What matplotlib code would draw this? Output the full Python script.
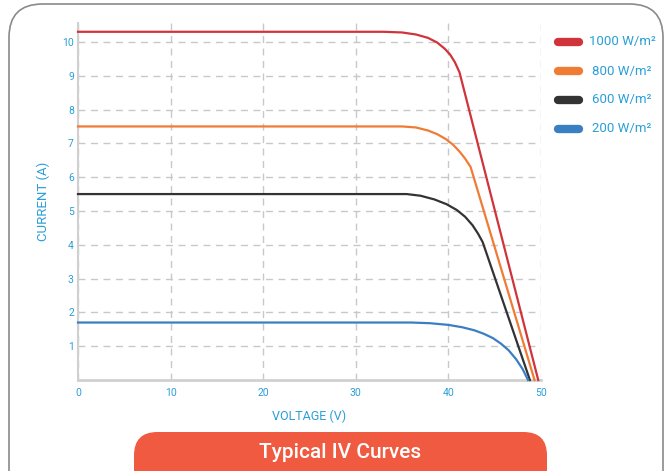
import matplotlib.pyplot as plt
from matplotlib.patches import FancyBboxPatch
from matplotlib.lines import Line2D

# ==== DATA ====
red_v = [0, 33, 35, 36.5, 37.8, 38.8, 39.6, 40.2, 40.7, 41.2, 49.7]
red_i = [10.3, 10.3, 10.28, 10.22, 10.12, 9.98, 9.8, 9.62, 9.4, 9.1, 0]

orange_v = [0, 35, 36.5, 37.8, 38.8, 39.7, 40.5, 41.2, 41.8, 42.4, 49.3]
orange_i = [7.5, 7.5, 7.47, 7.38, 7.27, 7.13, 6.96, 6.76, 6.55, 6.3, 0]

black_v = [0, 35.5, 37, 38.5, 39.8, 40.9, 41.8, 42.6, 43.2, 43.7, 48.8]
black_i = [5.5, 5.5, 5.45, 5.34, 5.2, 5.03, 4.83, 4.58, 4.33, 4.08, 0]

blue_v = [0, 36, 38, 40, 41.5, 42.8, 43.8, 44.8, 45.7, 46.5, 47.3, 48.0, 48.6]
blue_i = [1.7, 1.7, 1.68, 1.63, 1.56, 1.47, 1.37, 1.24, 1.07, 0.88, 0.62, 0.33, 0]

labels = ["1000 W/m²", "800 W/m²", "600 W/m²", "200 W/m²"]
colors = ["#D0343A", "#F07B35", "#333333", "#3A7FC2"]
x_ticks = [0, 10, 20, 30, 40, 50]
y_ticks = [1, 2, 3, 4, 5, 6, 7, 8, 9, 10]

BLUE_TXT = "#2A9FD8"
W, H = 669, 471

plt.rcParams['font.family'] = ['Roboto', 'DejaVu Sans']

fig = plt.figure(figsize=(W / 100, H / 100), dpi=100)

# outer rounded panel (bottom edge runs off the picture)
panel = FancyBboxPatch((9 / W, -60 / H), 654 / W, (471 - 4 + 60) / H,
                       boxstyle="round,pad=0,rounding_size=0.05",
                       transform=fig.transFigure, facecolor="white",
                       edgecolor="#8a8a8a", lw=1.2, mutation_aspect=W / H,
                       zorder=-10)
fig.patches.append(panel)

ax = fig.add_axes([78 / W, 1 - 380 / H, 463 / W, 357 / H])
ax.set_facecolor("none")

for v, i, c in zip([red_v, orange_v, black_v, blue_v],
                   [red_i, orange_i, black_i, blue_i], colors):
    ax.plot(v, i, color=c, lw=1.6, solid_joinstyle="round", zorder=3,
            clip_on=False)

ax.set_xlim(0, 50)
ax.set_ylim(0, 10.56)
ax.set_xticks(x_ticks)
ax.set_yticks(y_ticks)
ax.grid(True, color="#c8c8c8", lw=1, linestyle=(0, (5, 4)))
ax.tick_params(length=0, labelsize=7.5, labelcolor=BLUE_TXT)
ax.tick_params(axis="y", pad=3)
ax.tick_params(axis="x", pad=6)
for s in ["top", "right"]:
    ax.spines[s].set_visible(False)
ax.spines["left"].set_color("#d0d0d0")
ax.spines["left"].set_linewidth(1.5)
ax.spines["bottom"].set_color("#d0d0d0")
ax.spines["bottom"].set_linewidth(2)
ax.set_xlabel("VOLTAGE (V)", color=BLUE_TXT, fontsize=9, labelpad=8)
ax.set_ylabel("CURRENT (A)", color=BLUE_TXT, fontsize=9.5, labelpad=9)

# legend on the right
for k, (lab, c) in enumerate(zip(labels, colors)):
    y = 1 - (42 + 29 * k) / H
    fig.add_artist(Line2D([558 / W, 579 / W], [y, y], transform=fig.transFigure,
                          color=c, lw=6, solid_capstyle="round"))
    fig.text(622 / W, y, lab, color=BLUE_TXT, fontsize=9.5,
             ha="center", va="center")

# bottom banner
banner = FancyBboxPatch((134 / W, -30 / H), 413 / W, (471 - 432 + 30) / H,
                        boxstyle="round,pad=0,rounding_size=0.035",
                        transform=fig.transFigure, facecolor="#F05A40",
                        edgecolor="none", mutation_aspect=W / H)
fig.patches.append(banner)
fig.text(340 / W, 1 - 452 / H, "Typical IV Curves", color="white",
         fontsize=15, fontweight="medium", ha="center", va="center")

fig.savefig("out.png", dpi=100)
